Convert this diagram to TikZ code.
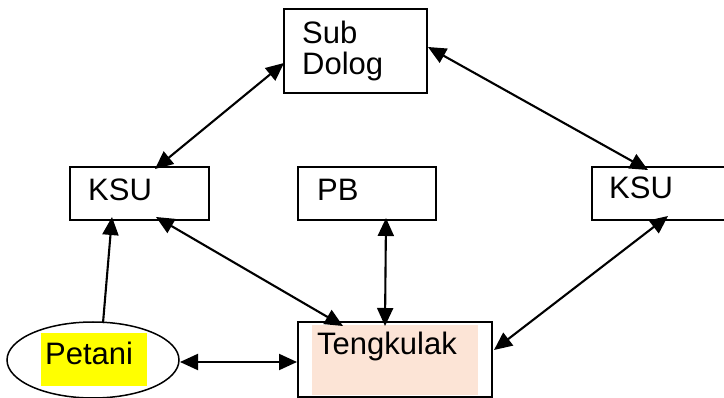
\documentclass[tikz,border=0pt]{standalone}
\usepackage{fontspec}
\setmainfont{Liberation Sans}
\usetikzlibrary{arrows.meta,calc,shapes.geometric}
\definecolor{peach}{HTML}{FCE4D6}
\definecolor{hiyellow}{HTML}{FFFF00}
\begin{document}
\begin{tikzpicture}[x=1pt,y=-1pt,
  box/.style={draw,line width=1.8pt,rectangle,inner sep=0pt,outer sep=0pt},
  lbl/.style={anchor=base west,inner sep=0pt,font=\fontsize{31}{34}\selectfont},
  link/.style={line width=2.1pt},
  tip/.tip={Triangle[length=18pt,width=16pt]},
  both/.style={link,tip-tip},
  one/.style={link,-tip}]
\useasboundingbox (0,0) rectangle (724,398);
\fill[white] (0,0) rectangle (724,398);

% boxes
\node[box,minimum width=143pt,minimum height=84pt] (sub) at (355.5,51) {};
\node[box,minimum width=139pt,minimum height=53pt] (ksuL) at (139.5,193.5) {};
\node[box,minimum width=138pt,minimum height=53pt] (pb) at (367,193.5) {};
\node[box,minimum width=139pt,minimum height=53pt] (ksuR) at (661.5,193.5) {};
\node[inner sep=0pt,outer sep=0pt,minimum width=194pt,minimum height=75pt] (teng) at (395,359.5) {};
\fill[peach] (312,325) rectangle (478,395);
\draw[line width=1.8pt] (teng.south west) rectangle (teng.north east);
\node[draw,line width=1.5pt,ellipse,minimum width=172pt,minimum height=76pt,inner sep=0pt,outer sep=0pt] (pet) at (93,360) {};
\fill[hiyellow] (41,333) rectangle (147,386);

% labels
\node[lbl] (tsub) at (302,44) {Sub};
\node[lbl] (tdolog) at (302,75) {Dolog};
\node[lbl] (tksuL) at (88,201) {KSU};
\node[lbl] (tpb) at (317,201) {PB};
\node[lbl] (tksuR) at (609,199) {KSU};
\node[lbl] (tteng) at (317,355) {Tengkulak};
\node[lbl] (tpet) at (45,365) {Petani};

% connectors
\draw[both] ($(sub.west)+(0,12)$) -- ($(ksuL.north)+(15.5,2)$);
\draw[both] ($(sub.east)+(1,-4)$) -- ($(ksuR.north)+(-13.5,3)$);
\draw[one] ($(pet.north)+(10,1)$) -- ($(ksuL.south)+(-27.5,-3)$);
\draw[both] ($(ksuL.south)+(16.5,-3)$) -- ($(teng.north)+(-52,4)$);
\draw[both] ($(pb.south)+(19,-2)$) -- ($(teng.north)+(-10,4)$);
\draw[both] ($(ksuR.south)+(6.5,-4)$) -- ($(teng.east)+(2,-9.5)$);
\draw[both] ($(pet.east)+(1,2)$) -- ($(teng.west)+(-1,2.5)$);
\end{tikzpicture}
\end{document}
